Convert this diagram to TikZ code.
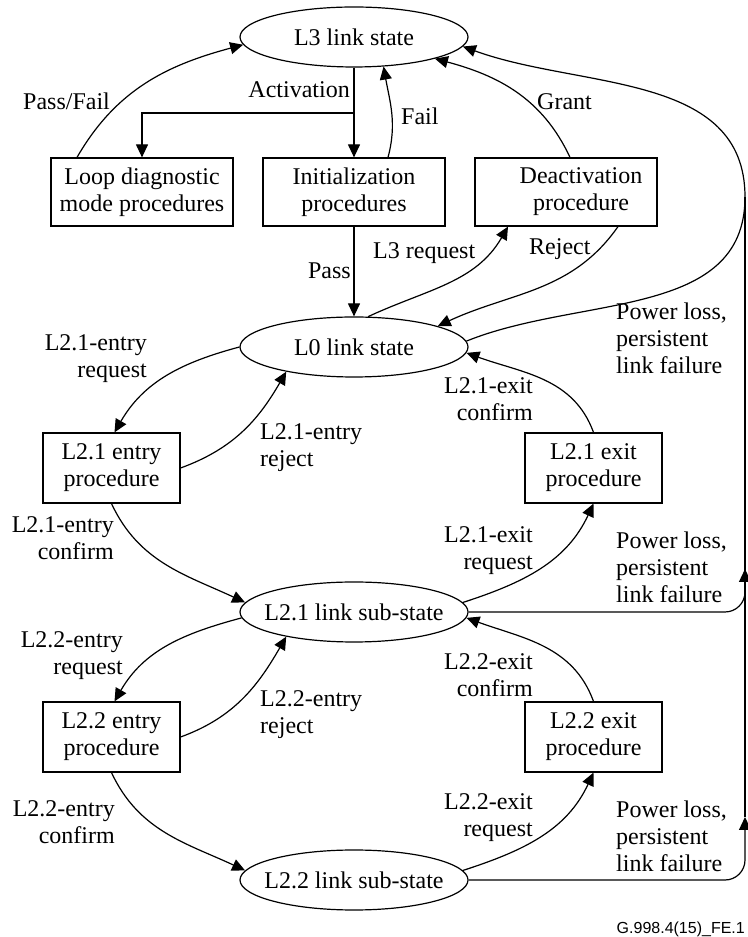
\documentclass[tikz,border=0pt]{standalone}
\usepackage{fontspec}
\setmainfont{Liberation Serif}
\newfontfamily\footfont{Liberation Sans}
\usetikzlibrary{arrows.meta,shapes.geometric}
\newcommand\ctext[1]{\hbox to 0pt{\hss#1\hss}}
\begin{document}
\begin{tikzpicture}[x=1pt,y=1pt,
  every node/.style={font=\fontsize{24}{27}\selectfont, inner sep=0pt},
  line/.style={line width=1.2pt},
  arr/.style={line width=1.2pt, -{Triangle[length=13pt,width=12pt]}},
  st/.style={ellipse, draw, line width=1.2pt, minimum width=228pt, minimum height=60pt},
  bigbox/.style={draw, line width=1.2pt, minimum width=182pt, minimum height=68pt, align=center},
  smallbox/.style={draw, line width=1.2pt, minimum width=137pt, minimum height=70pt, align=center},
  labl/.style={align=left, anchor=base west},
  labr/.style={align=right, anchor=base east}]
\useasboundingbox (0,0) rectangle (747,937);
% states
\node[st] (l3) at (354,900) {\ctext{L3 link state}};
\node[st] (l0) at (354,590) {\ctext{L0 link state}};
\node[st] (l21) at (354,325) {\ctext{L2.1 link sub-state}};
\node[st] (l22) at (354,57) {\ctext{L2.2 link sub-state}};
% boxes
\node[bigbox] (loop) at (142,745) {Loop diagnostic\\mode procedures};
\node[bigbox] (init) at (354,745) {Initialization\\procedures};
\node[bigbox] (deact) at (566,745) {};
\node[align=center] (deacttxt) at (581,745) {Deactivation\\procedure};
\node[smallbox] (e21) at (111.5,469) {L2.1 entry\\procedure};
\node[smallbox] (ex21) at (593.5,469) {L2.1 exit\\procedure};
\node[smallbox] (e22) at (111.5,200) {L2.2 entry\\procedure};
\node[smallbox] (ex22) at (593.5,200) {L2.2 exit\\procedure};
% coordinates
\coordinate (br) at (354,824);
\coordinate (pk) at (745,740);
\coordinate (j1) at (745,368);
\coordinate (j2) at (745,120);
% top connectors
\draw[arr] ([xshift=-65pt]loop.north) to[out=60,in=195] (l3.184);
\draw[arr] (l3.south) -- (init.north);
\draw[arr] (br) -| (loop.north);
\draw[arr] ([xshift=34pt]init.north) to[out=75,in=-80] (l3.-45);
\draw[arr] ([xshift=4pt]deact.north) to[out=115,in=-15] (l3.-15);
\draw[arr] (l0.3.5) to[out=22,in=-90] (pk) to[out=90,in=-20] (l3.-5);
\draw[line] (j2) -- (pk);
\draw[arr] (init.south) -- (l0.north);
\draw[arr] (l0.65) to[out=25,in=-120] ([xshift=-58pt]deact.south);
\draw[arr] ([xshift=52pt]deact.south) to[out=-125,in=25] (l0.14);
% L2.1
\draw[arr] (l0.west) to[out=195,in=60] ([xshift=3pt]e21.north);
\draw[arr] (e21.east) to[out=20,in=-120] (l0.200);
\draw[arr] (e21.south) to[out=-65,in=155] (l21.175);
\draw[arr] (ex21.north) to[out=110,in=-20] (l0.-3);
\draw[arr] (l21.5) to[out=18,in=-115] (ex21.south);
\draw[arr, rounded corners=20pt] (l21.east) -| (j1);
% L2.2
\draw[arr] (l21.183) to[out=195,in=60] ([xshift=3pt]e22.north);
\draw[arr] (e22.east) to[out=20,in=-120] (l21.200);
\draw[arr] (e22.south) to[out=-65,in=155] (l22.175);
\draw[arr] (ex22.north) to[out=110,in=-20] (l21.-3);
\draw[arr] (l22.5) to[out=18,in=-115] (ex22.south);
\draw[arr, rounded corners=20pt] (l22.east) -| (j2);
% labels
\node[labl] (tpf) at (23,827) {Pass/Fail};
\node[labr] (tact) at (350,839) {Activation};
\node[labl] (tfail) at (401,812) {Fail};
\node[labl] (tgrant) at (537,827) {Grant};
\node[labl] (tl3r) at (373,678) {L3 request};
\node[labl] (trej) at (529,682) {Reject};
\node[labr] (tpass) at (351,658) {Pass};
\node[labl] (tpl1) at (616,563) {Power loss,\\persistent\\link failure};
\node[labl] (tpl2) at (616,334) {Power loss,\\persistent\\link failure};
\node[labl] (tpl3) at (616,65) {Power loss,\\persistent\\link failure};
\node[labr] (t21er) at (147,559) {L2.1-entry\\request};
\node[labl] (t21ej) at (260,470) {L2.1-entry\\reject};
\node[labr] (t21ec) at (114,377) {L2.1-entry\\confirm};
\node[labr] (t21xc) at (533,516) {L2.1-exit\\confirm};
\node[labr] (t21xr) at (533,367) {L2.1-exit\\request};
\node[labr] (t22er) at (123,262) {L2.2-entry\\request};
\node[labl] (t22ej) at (260,203) {L2.2-entry\\reject};
\node[labr] (t22ec) at (115,93) {L2.2-entry\\confirm};
\node[labr] (t22xc) at (533,240) {L2.2-exit\\confirm};
\node[labr] (t22xr) at (533,100) {L2.2-exit\\request};
\node[anchor=base east, font=\footfont\fontsize{16}{18}\selectfont] (foot) at (745,3) {G.998.4(15)\_FE.1};
\end{tikzpicture}
\end{document}
